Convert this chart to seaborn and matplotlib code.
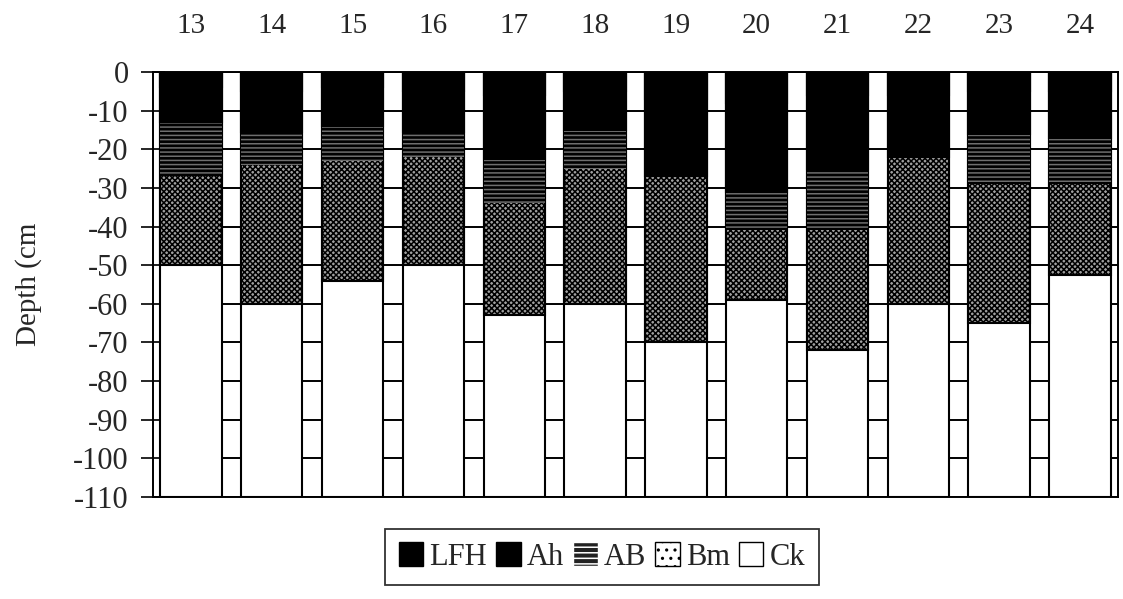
import matplotlib
matplotlib.use("Agg")
import matplotlib.pyplot as plt
from matplotlib.patches import Patch
import seaborn as sns

# ---- data (depth of the lower boundary of each horizon, cm) ----
profiles = ["13", "14", "15", "16", "17", "18", "19", "20", "21", "22", "23", "24"]
lfh_bottom = [-4, -5, -4, -5, -6, -5, -7, -8, -6, -6, -5, -5]
ah_bottom = [-13, -15.5, -14, -15.5, -22.5, -15, -27, -31, -25, -22, -16, -17]
ab_bottom = [-27, -24, -23, -22, -34, -25, -27, -41, -41, -22, -29, -29]
bm_bottom = [-50, -60, -54, -50, -63, -60, -70, -59, -72, -60, -65, -52.5]
ck_bottom = [-110, -110, -110, -110, -110, -110, -110, -110, -110, -110, -110, -110]
horizons = ["LFH", "Ah", "AB", "Bm", "Ck"]
y_ticks = [0, -10, -20, -30, -40, -50, -60, -70, -80, -90, -100, -110]

sns.set_style("white")
plt.rcParams["font.family"] = ["Liberation Serif", "DejaVu Serif"]
plt.rcParams["axes.unicode_minus"] = False
plt.rcParams["hatch.linewidth"] = 1.1

fig = plt.figure(figsize=(11.23, 5.99), dpi=100)
ax = fig.add_axes([0.1362, 0.1703, 0.8593, 0.7095])

W = 0.76
LW = 1.5
common = dict(x=profiles, width=W, saturation=1, errorbar=None, ax=ax)

# Ck (white) - full column
sns.barplot(y=ck_bottom, color="white", edgecolor="black", linewidth=LW, **common)
# Bm (speckled)
sns.barplot(y=bm_bottom, color="#a0a0a0", edgecolor="black", linewidth=LW,
            hatch="xxxxxx", **common)
# AB (dark with light flecks)
sns.barplot(y=ab_bottom, color="black", edgecolor="#6e6e6e", linewidth=0,
            hatch="----", **common)
# Ah (black)
sns.barplot(y=ah_bottom, color="black", edgecolor="black", linewidth=LW, **common)
# LFH (black)
sns.barplot(y=lfh_bottom, color="black", edgecolor="black", linewidth=LW, **common)

ax.set_xlim(-0.47, len(profiles) - 0.53)
ax.set_ylim(-110, 0)
ax.set_yticks(y_ticks)
ax.set_yticklabels([str(v) for v in y_ticks])
ax.yaxis.grid(True, color="black", linewidth=1.4)
ax.xaxis.grid(False)
ax.set_axisbelow(True)

ax.xaxis.tick_top()
ax.tick_params(axis="x", length=0, pad=24, labelsize=21, top=True, bottom=False)
ax.tick_params(axis="y", direction="inout", length=17, width=1.4, pad=9,
               labelsize=22, left=True)
ax.set_xlabel("")
ax.set_ylabel("Depth (cm", fontsize=21, labelpad=22)
for s in ax.spines.values():
    s.set_visible(True)
    s.set_color("black")
    s.set_linewidth(1.4)

handles = [
    Patch(facecolor="black", edgecolor="black", label=horizons[0]),
    Patch(facecolor="black", edgecolor="black", label=horizons[1]),
    Patch(facecolor="#222222", edgecolor="white", hatch="---", label=horizons[2]),
    Patch(facecolor="white", edgecolor="black", hatch="..", label=horizons[3]),
    Patch(facecolor="white", edgecolor="black", label=horizons[4]),
]
leg = fig.legend(handles=handles, loc="center", bbox_to_anchor=(0.536, 0.070),
                 ncol=5, fontsize=22, frameon=True, fancybox=False,
                 handlelength=0.8, handleheight=0.8, handletextpad=0.2,
                 columnspacing=0.3, borderpad=0.45, edgecolor="black")
leg.get_frame().set_linewidth(1.3)

fig.savefig("out.png", dpi=100)
